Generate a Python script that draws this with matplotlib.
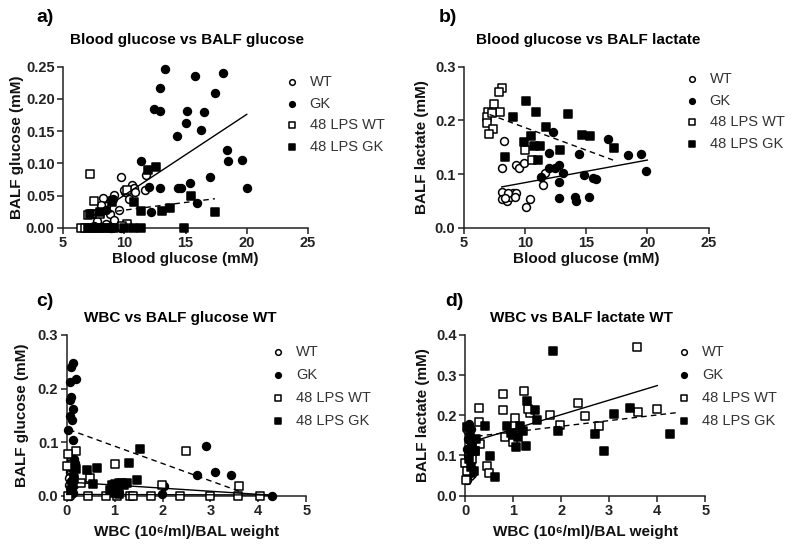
import matplotlib
matplotlib.use("Agg")
import matplotlib.pyplot as plt
import numpy as np

plt.rcParams['font.family'] = ['Liberation Sans', 'DejaVu Sans']

# ---------------- data ----------------
groups = ["WT", "GK", "48 LPS WT", "48 LPS GK"]

# panel a: Blood glucose vs BALF glucose
a_wt_x = [9.7, 11.8, 11.7, 10.6, 10.4, 10.05, 9.2, 8.8, 8.3, 9.6, 8.5, 8.1, 10.0, 10.8, 8.8, 9.2, 7.8, 8.5, 9.7, 10.2, 7.5, 8.9, 10.9]
a_wt_y = [0.078, 0.082, 0.059, 0.066, 0.044, 0.056, 0.051, 0.043, 0.046, 0.028, 0.033, 0.036, 0.058, 0.062, 0.022, 0.012, 0.010, 0.005, 0.000, 0.005, 0.002, 0.000, 0.055]
a_gk_x = [13.3, 15.8, 18.1, 12.9, 17.4, 12.4, 12.9, 15.1, 16.5, 15.0, 16.3, 14.3, 18.4, 11.4, 18.5, 19.6, 17.0, 12.0, 12.9, 14.4, 14.6, 15.4, 20.0, 15.9, 12.2, 9.1, 8.5]
a_gk_y = [0.247, 0.235, 0.240, 0.217, 0.209, 0.185, 0.181, 0.181, 0.180, 0.163, 0.151, 0.142, 0.121, 0.104, 0.103, 0.105, 0.078, 0.063, 0.061, 0.062, 0.061, 0.070, 0.061, 0.038, 0.024, 0.044, 0.027]
a_lwt_x = [7.2, 7.5, 7.0, 7.4, 6.5, 6.8, 7.6, 8.2, 10.2, 9.8, 8.0, 10.2, 8.9]
a_lwt_y = [0.083, 0.042, 0.020, 0.021, 0.000, 0.000, 0.000, 0.000, 0.006, 0.002, 0.021, 0.058, 0.000]
a_lgk_x = [11.9, 12.6, 10.8, 11.4, 13.1, 13.7, 15.45, 17.4, 14.9, 11.4, 10.7, 7.0, 7.4, 7.9, 8.5, 9.2, 7.2, 8.0, 9.0, 10.0]
a_lgk_y = [0.089, 0.094, 0.040, 0.026, 0.026, 0.030, 0.050, 0.024, 0.000, 0.000, 0.000, 0.000, 0.000, 0.000, 0.000, 0.000, 0.022, 0.024, 0.040, 0.000]
a_fit_solid_x = [7.5, 20.0]
a_fit_solid_y = [0.019, 0.176]
a_fit_dash_x = [7.0, 17.4]
a_fit_dash_y = [0.020, 0.045]

# panel b: Blood glucose vs BALF lactate
b_wt_x = [8.3, 8.1, 9.3, 9.5, 9.9, 11.6, 11.5, 8.1, 8.1, 8.5, 8.75, 9.0, 8.6, 8.4, 9.3, 9.2, 10.4, 10.1]
b_wt_y = [0.162, 0.111, 0.117, 0.112, 0.121, 0.101, 0.080, 0.067, 0.053, 0.049, 0.057, 0.064, 0.064, 0.055, 0.064, 0.057, 0.053, 0.038]
b_gk_x = [12.3, 16.8, 14.4, 12.0, 18.4, 19.5, 19.9, 12.0, 12.45, 12.8, 13.1, 11.3, 12.8, 14.85, 15.6, 15.8, 12.8, 14.1, 14.2, 15.2]
b_gk_y = [0.178, 0.166, 0.137, 0.140, 0.135, 0.138, 0.105, 0.111, 0.112, 0.116, 0.101, 0.094, 0.086, 0.098, 0.093, 0.091, 0.055, 0.057, 0.050, 0.057]
b_lwt_x = [8.15, 7.9, 7.5, 7.0, 7.96, 6.87, 7.33, 6.87, 7.41, 7.08, 10.0, 10.55]
b_lwt_y = [0.260, 0.252, 0.230, 0.216, 0.216, 0.207, 0.213, 0.196, 0.183, 0.175, 0.145, 0.127]
b_lgk_x = [10.1, 10.9, 13.5, 9.0, 11.7, 14.7, 15.3, 10.5, 9.9, 10.7, 11.2, 12.9, 8.4, 11.1, 17.3]
b_lgk_y = [0.237, 0.216, 0.211, 0.206, 0.187, 0.173, 0.171, 0.171, 0.160, 0.152, 0.152, 0.145, 0.131, 0.127, 0.148]
b_fit_solid_x = [8.1, 20.0]
b_fit_solid_y = [0.076, 0.126]
b_fit_dash_x = [7.1, 17.2]
b_fit_dash_y = [0.211, 0.126]

# panel c: WBC vs BALF glucose
c_wt_x = [0.05, 0.08, 0.10, 0.12, 0.06, 0.09, 0.15, 0.04, 0.11, 0.07, 0.13, 0.05, 0.10, 0.08]
c_wt_y = [0.078, 0.066, 0.056, 0.048, 0.043, 0.060, 0.030, 0.020, 0.010, 0.000, 0.005, 0.033, 0.025, 0.045]
c_gk_x = [0.125, 0.10, 0.07, 0.19, 0.10, 0.07, 0.13, 0.07, 0.12, 0.03, 0.13, 0.10, 0.16, 0.07, 0.13, 0.10, 0.16, 0.18, 0.12,
          2.9, 2.71, 3.1, 3.43, 2.03, 4.28, 1.98, 1.0, 1.1]
c_gk_y = [0.248, 0.241, 0.2125, 0.217, 0.184, 0.178, 0.1625, 0.148, 0.142, 0.122, 0.103, 0.078, 0.069, 0.053, 0.041, 0.028, 0.019, 0.060, 0.005,
          0.092, 0.039, 0.044, 0.039, 0.017, 0.000, 0.003, 0.006, 0.004]
c_lwt_x = [2.5, 1.0, 0.19, 0.03, 0.0, 0.29, 0.49, 1.98, 3.6, 0.03, 0.45, 0.83, 1.04, 1.32, 1.39, 1.77, 2.37, 2.99, 3.58, 4.03]
c_lwt_y = [0.0825, 0.059, 0.084, 0.078, 0.056, 0.023, 0.0325, 0.020, 0.018, 0.0, 0.0, 0.0, 0.0, 0.0, 0.0, 0.0, 0.0, 0.0, 0.0, 0.0]
c_lgk_x = [1.52, 1.3, 0.43, 0.63, 1.46, 0.54, 0.95, 1.0, 1.05, 1.1, 1.15, 1.2, 1.25, 1.0, 1.1, 0.9, 0.2, 0.15, 0.1]
c_lgk_y = [0.0875, 0.061, 0.048, 0.052, 0.029, 0.021, 0.020, 0.022, 0.018, 0.024, 0.023, 0.020, 0.024, 0.005, 0.003, 0.010, 0.050, 0.030, 0.010]
c_fit_dash_x = [0.05, 3.6]
c_fit_dash_y = [0.123, 0.008]
c_fit_solid_x = [0.05, 4.2]
c_fit_solid_y = [0.025, 0.001]
c_fit_flat_x = [0.0, 4.3]
c_fit_flat_y = [0.002, 0.001]

# panel d: WBC vs BALF lactate
d_wt_x = [0.05, 0.10, 0.08, 0.12, 0.06, 0.04, 0.10, 0.14, 0.07, 0.09, 0.11, 0.05]
d_wt_y = [0.162, 0.111, 0.117, 0.121, 0.101, 0.080, 0.067, 0.053, 0.057, 0.064, 0.049, 0.038]
d_gk_x = [0.08, 0.12, 0.10, 0.06, 0.15, 0.10, 0.05, 0.12, 0.08, 0.13, 0.10, 0.07]
d_gk_y = [0.178, 0.166, 0.137, 0.140, 0.135, 0.112, 0.116, 0.101, 0.094, 0.086, 0.057, 0.050]
d_lwt_x = [3.58, 1.23, 0.78, 0.78, 0.30, 0.30, 2.36, 2.50, 1.77, 1.98, 2.79, 3.59, 4.00, 1.04, 1.35, 0.83, 1.00, 0.31, 0.45, 0.50, 0.0, 0.03, 1.30, 0.21, 0.05, 0.15]
d_lwt_y = [0.369, 0.260, 0.252, 0.213, 0.217, 0.184, 0.230, 0.197, 0.200, 0.176, 0.174, 0.209, 0.215, 0.194, 0.206, 0.147, 0.134, 0.129, 0.074, 0.056, 0.080, 0.039, 0.215, 0.110, 0.060, 0.090]
d_lgk_x = [1.84, 1.28, 1.46, 1.50, 1.27, 0.87, 1.00, 1.10, 1.14, 1.07, 1.93, 3.43, 3.09, 2.70, 2.89, 4.26, 0.42, 0.53, 0.62,
           0.05, 0.10, 0.15, 0.20, 0.08, 0.12, 0.18, 0.22, 1.20, 0.95]
d_lgk_y = [0.360, 0.236, 0.212, 0.187, 0.124, 0.174, 0.150, 0.147, 0.174, 0.122, 0.161, 0.219, 0.203, 0.153, 0.110, 0.153, 0.172, 0.099, 0.047,
           0.170, 0.150, 0.130, 0.110, 0.090, 0.070, 0.060, 0.140, 0.160, 0.155]
d_fit_solid_x = [0.03, 4.0]
d_fit_solid_y = [0.130, 0.274]
d_fit_dash_x = [0.05, 4.44]
d_fit_dash_y = [0.145, 0.207]

# ---------------- styling ----------------
MS = 32
styles = {
    "WT": dict(marker="o", facecolors="white", edgecolors="black"),
    "GK": dict(marker="o", facecolors="black", edgecolors="black"),
    "48 LPS WT": dict(marker="s", facecolors="white", edgecolors="black"),
    "48 LPS GK": dict(marker="s", facecolors="black", edgecolors="black"),
}

fig = plt.figure(figsize=(8.0, 5.51), dpi=100)
W, H = 800.0, 551.0


def make_ax(x0, x1, ytop, ybot):
    return fig.add_axes([x0 / W, 1 - ybot / H, (x1 - x0) / W, (ybot - ytop) / H])


def style_ax(ax):
    for s in ("top", "right"):
        ax.spines[s].set_visible(False)
    for s in ("left", "bottom"):
        ax.spines[s].set_linewidth(1.1)
        ax.spines[s].set_color("#222222")
    ax.tick_params(direction="out", length=4, width=1.1, colors="#222222",
                   labelsize=10.5, pad=2)
    for lab in ax.get_xticklabels() + ax.get_yticklabels():
        lab.set_fontweight("bold")


def draw(ax, data, fits):
    for g, (xs, ys) in zip(groups, data):
        ax.scatter(xs, ys, s=MS, linewidths=1.1, clip_on=False, zorder=3, label=g, **styles[g])
    for (fx, fy, ls) in fits:
        ax.plot(fx, fy, color="black", lw=1.0, ls=ls, zorder=4, clip_on=False,
                dashes=(4, 3) if ls == "--" else (None, None))


def legend(ax, x_marker, y_top, spacing):
    h, l = ax.get_legend_handles_labels()
    fs = 10.5
    fpx = fs * 100 / 72
    leg = ax.legend(h, l, loc="upper left", frameon=False, fontsize=fs,
                    bbox_to_anchor=((x_marker - 0.5 * fpx) / W, 1 - y_top / H),
                    bbox_transform=fig.transFigure, borderaxespad=0, borderpad=0,
                    handlelength=1.0, handletextpad=0.75, labelspacing=spacing,
                    markerscale=0.72, scatterpoints=1)
    for t in leg.get_texts():
        t.set_color("#333333")


def ylabel(ax, text, xcoord):
    ax.set_ylabel(text, fontsize=11, fontweight="bold", color="#111111")
    ax.yaxis.set_label_coords(xcoord, 0.5)


def xlabel(ax, text, ycoord):
    ax.set_xlabel(text, fontsize=11, fontweight="bold", color="#111111")
    ax.xaxis.set_label_coords(0.5, ycoord)


def title(ax, text, x, y):
    ax.text(x, y, text, transform=ax.transAxes, ha="center", va="center",
            fontsize=11, fontweight="bold")


# panel a
axa = make_ax(63, 308, 66.7, 227.7)
draw(axa, [(a_wt_x, a_wt_y), (a_gk_x, a_gk_y), (a_lwt_x, a_lwt_y), (a_lgk_x, a_lgk_y)],
     [(a_fit_solid_x, a_fit_solid_y, "-"), (a_fit_dash_x, a_fit_dash_y, "--")])
axa.set_xlim(5, 25)
axa.set_ylim(0, 0.25)
axa.set_xticks([5, 10, 15, 20, 25])
axa.set_yticks([0, 0.05, 0.10, 0.15, 0.20, 0.25])
axa.set_yticklabels(["0.00", "0.05", "0.10", "0.15", "0.20", "0.25"])
style_ax(axa)
ylabel(axa, "BALF glucose (mM)", -0.159)
xlabel(axa, "Blood glucose (mM)", -0.15)
legend(axa, 291.5, 75, 0.52)
title(axa, "Blood glucose vs BALF glucose", 0.506, 1.165)

# panel b
axb = make_ax(463.8, 708.5, 66.7, 227.7)
draw(axb, [(b_wt_x, b_wt_y), (b_gk_x, b_gk_y), (b_lwt_x, b_lwt_y), (b_lgk_x, b_lgk_y)],
     [(b_fit_solid_x, b_fit_solid_y, "-"), (b_fit_dash_x, b_fit_dash_y, "--")])
axb.set_xlim(5, 25)
axb.set_ylim(0, 0.3)
axb.set_xticks([5, 10, 15, 20, 25])
axb.set_yticks([0, 0.1, 0.2, 0.3])
axb.set_yticklabels(["0.0", "0.1", "0.2", "0.3"])
style_ax(axb)
ylabel(axb, "BALF lactate (mM)", -0.142)
xlabel(axb, "Blood glucose (mM)", -0.15)
legend(axb, 691.5, 72, 0.52)
title(axb, "Blood glucose vs BALF lactate", 0.508, 1.165)

# panel c
axc = make_ax(66.7, 306.2, 335.0, 495.5)
draw(axc, [(c_wt_x, c_wt_y), (c_gk_x, c_gk_y), (c_lwt_x, c_lwt_y), (c_lgk_x, c_lgk_y)],
     [(c_fit_dash_x, c_fit_dash_y, "--"), (c_fit_solid_x, c_fit_solid_y, "-"),
      (c_fit_flat_x, c_fit_flat_y, "-")])
axc.set_xlim(0, 5)
axc.set_ylim(0, 0.3)
axc.set_xticks([0, 1, 2, 3, 4, 5])
axc.set_yticks([0, 0.1, 0.2, 0.3])
axc.set_yticklabels(["0.0", "0.1", "0.2", "0.3"])
style_ax(axc)
ylabel(axc, "BALF glucose (mM)", -0.157)
xlabel(axc, "WBC (10\u2076/ml)/BAL weight", -0.185)
legend(axc, 278, 345, 0.62)
title(axc, "WBC vs BALF glucose WT", 0.473, 1.106)

# panel d
axd = make_ax(465, 705.4, 335.0, 495.5)
draw(axd, [(d_wt_x, d_wt_y), (d_gk_x, d_gk_y), (d_lwt_x, d_lwt_y), (d_lgk_x, d_lgk_y)],
     [(d_fit_solid_x, d_fit_solid_y, "-"), (d_fit_dash_x, d_fit_dash_y, "--")])
axd.set_xlim(0, 5)
axd.set_ylim(0, 0.4)
axd.set_xticks([0, 1, 2, 3, 4, 5])
axd.set_yticks([0, 0.1, 0.2, 0.3, 0.4])
axd.set_yticklabels(["0.0", "0.1", "0.2", "0.3", "0.4"])
style_ax(axd)
ylabel(axd, "BALF lactate (mM)", -0.146)
xlabel(axd, "WBC (10\u2076/ml)/BAL weight", -0.185)
legend(axd, 684, 345, 0.62)
title(axd, "WBC vs BALF lactate WT", 0.483, 1.106)

# panel letters
for lbl, (px, py) in zip(["a)", "b)", "c)", "d)"], [(45, 17), (448, 17), (45, 301), (454, 301)]):
    fig.text(px / W, 1 - py / H, lbl, ha="center", va="center", fontsize=14, fontweight="bold")

fig.savefig("out.png", dpi=100)
